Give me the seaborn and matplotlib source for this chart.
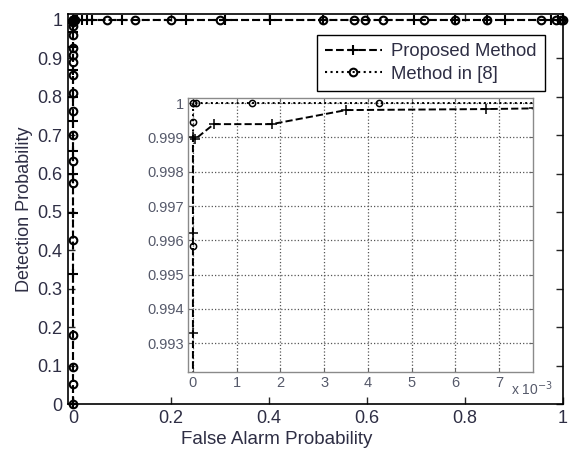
import numpy as np
import pandas as pd
import matplotlib
matplotlib.use("Agg")
import matplotlib.pyplot as plt
from matplotlib.ticker import FuncFormatter
import seaborn as sns

# ROC points for the proposed detector (false alarm, detection)
proposed_fa = [0, 0, 0, 0, 0, 0, 0, 0, 0, 0, 0, 0, 0, 0.00005,
               0.00048, 0.0018, 0.0035, 0.0067, 0.0078,
               0.0176, 0.028, 0.038, 0.101, 0.230, 0.311, 0.402, 0.510,
               0.696, 0.779, 0.844, 0.881, 0.976, 0.99, 1.0]
proposed_pd = [0, 0.339, 0.498, 0.598, 0.658, 0.736, 0.800, 0.870, 0.930,
               0.970, 0.9933, 0.9962, 0.9990, 0.99895,
               0.99939, 0.99939, 0.99980, 0.99983, 0.99985,
               1.0, 1.0, 1.0, 1.0, 1.0, 1.0, 1.0, 1.0,
               1.0, 1.0, 1.0, 1.0, 1.0, 1.0, 1.0]

# ROC points for the reference method [8]
ref_fa = [0, 0, 0, 0, 0, 0, 0, 0, 0, 0, 0, 0, 0, 0, 0, 0, 0, 0, 0,
          0.00008, 0.00136, 0.00426, 0.070, 0.126, 0.200, 0.301, 0.510,
          0.574, 0.595, 0.632, 0.716, 0.779, 0.844, 0.955, 0.986, 0.995, 1.0]
ref_pd = [0, 0.052, 0.097, 0.181, 0.427, 0.576, 0.632, 0.701, 0.762, 0.811,
          0.857, 0.891, 0.909, 0.927, 0.960, 0.985, 0.99583, 0.99945, 1.0,
          1.0, 1.0, 1.0, 1.0, 1.0, 1.0, 1.0, 1.0,
          1.0, 1.0, 1.0, 1.0, 1.0, 1.0, 1.0, 1.0, 1.0, 1.0]

labels = ["Proposed Method", "Method in [8]"]
main_xticks = [0, 0.2, 0.4, 0.6, 0.8, 1]
main_yticks = [0, 0.1, 0.2, 0.3, 0.4, 0.5, 0.6, 0.7, 0.8, 0.9, 1]
inset_xticks = [0, 0.001, 0.002, 0.003, 0.004, 0.005, 0.006, 0.007]
inset_yticks = [0.993, 0.994, 0.995, 0.996, 0.997, 0.998, 0.999, 1.0]

df_prop = pd.DataFrame({"fa": proposed_fa, "pd": proposed_pd})
df_ref = pd.DataFrame({"fa": ref_fa, "pd": ref_pd})

sns.set_style("ticks")
plt.rcParams["font.family"] = ["Liberation Sans", "DejaVu Sans"]

label_color = "#2e2e44"
fig = plt.figure(figsize=(5.7, 4.5), dpi=100)
ax = fig.add_axes([0.1193, 0.1022, 0.8684, 0.8667])


def draw_curves(axis, lw, ms, mew, clip):
    sns.lineplot(data=df_prop, x="fa", y="pd", ax=axis, estimator=None,
                 sort=False, color="black", linestyle="--", linewidth=lw,
                 marker="+", markersize=ms + 2, markeredgecolor="black",
                 markeredgewidth=mew, clip_on=clip, label=labels[0])
    sns.lineplot(data=df_ref, x="fa", y="pd", ax=axis, estimator=None,
                 sort=False, color="black", linestyle=":", linewidth=lw,
                 marker="o", markersize=ms, markerfacecolor="none",
                 markeredgecolor="black", markeredgewidth=mew, clip_on=clip,
                 label=labels[1])


draw_curves(ax, 1.5, 5.5, 1.5, False)
ax.set_xlim(-0.0102, 1)
ax.set_ylim(0, 1.0156)
ax.set_xticks(main_xticks)
ax.set_yticks(main_yticks)
ax.xaxis.set_major_formatter(FuncFormatter(lambda v, p: f"{v:g}"))
ax.yaxis.set_major_formatter(FuncFormatter(lambda v, p: f"{v:g}"))
ax.tick_params(direction="in", top=True, right=True, length=5, width=1,
               labelsize=13, labelcolor=label_color, pad=4)
for s in ax.spines.values():
    s.set_linewidth(1.2)
    s.set_color("black")
ax.set_xlabel("False Alarm Probability", fontsize=13.5, color=label_color)
ax.set_ylabel("Detection Probability", fontsize=13, color=label_color)
ax.xaxis.set_label_coords(0.422, -0.068)
ax.yaxis.set_label_coords(-0.071, 0.5)
leg = ax.legend(loc="upper right", bbox_to_anchor=(0.964, 0.946),
                fontsize=13.3, frameon=True, fancybox=False, edgecolor="black",
                framealpha=1, handlelength=3.1, borderpad=0.45,
                labelspacing=0.3, handletextpad=0.5, borderaxespad=0)
leg.get_frame().set_linewidth(1.0)
for t in leg.get_texts():
    t.set_color(label_color)

# zoomed view of the upper-left corner
ins = fig.add_axes([0.330, 0.173, 0.605, 0.609])
draw_curves(ins, 1.4, 4.5, 1.1, True)
ins.set_xlim(-0.00011, 0.00777)
ins.set_ylim(0.99215, 1.00015)
ins.set_xticks(inset_xticks)
ins.set_yticks(inset_yticks)
ins.xaxis.set_major_formatter(FuncFormatter(lambda v, p: f"{v * 1e3:.0f}"))
ins.yaxis.set_major_formatter(FuncFormatter(lambda v, p: f"{v:g}"))
ins.grid(True, linestyle=":", color="#555555", linewidth=0.9)
ins.tick_params(direction="in", top=True, right=True, length=3, width=0.8,
                labelsize=10.5, labelcolor="#55596a", pad=3, color="#666666")
for s in ins.spines.values():
    s.set_linewidth(1.0)
    s.set_color("#8a8a8a")
ins.set_xlabel("")
ins.set_ylabel("")
ins.get_legend().remove()
ins.text(0.936, -0.025, r"x 10$^{-3}$", transform=ins.transAxes, ha="left",
         va="top", fontsize=10, color="#55596a")

fig.savefig("out.png", dpi=100)
